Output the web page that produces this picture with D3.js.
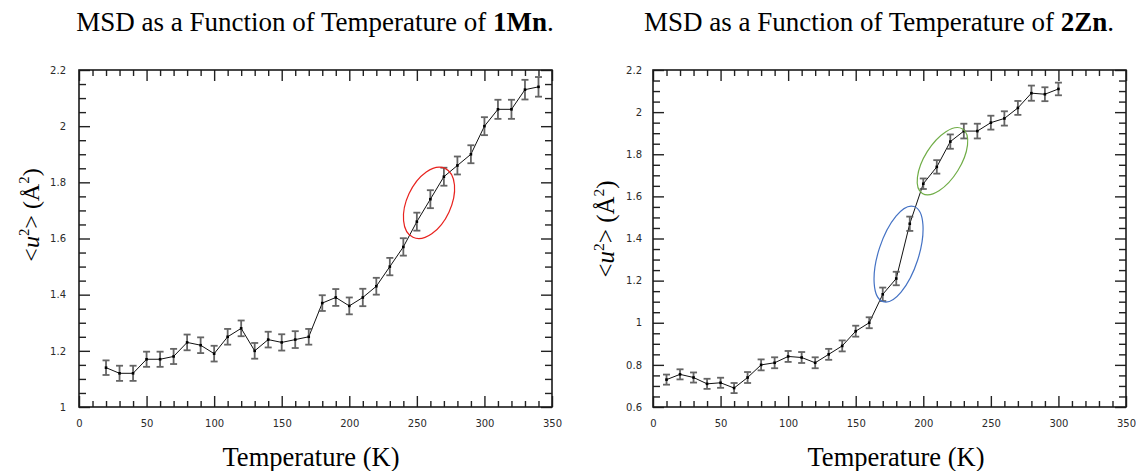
<!DOCTYPE html>
<html>
<head>
<meta charset="utf-8">
<script src="https://cdn.jsdelivr.net/npm/d3@7"></script>
<style>
  body { margin: 0; background: #fff; }
  svg { display: block; }
</style>
</head>
<body>
<svg id="chart" width="1136" height="471"></svg>
<script>
// ---- 1Mn: mean-square displacement vs temperature ----
const tempMn = [20, 30, 40, 50, 60, 70, 80, 90, 100, 110, 120, 130, 140, 150, 160, 170,
                180, 190, 200, 210, 220, 230, 240, 250, 260, 270, 280, 290, 300, 310, 320, 330, 340];
const msdMn  = [1.14, 1.12, 1.12, 1.17, 1.17, 1.18, 1.23, 1.22, 1.19, 1.25, 1.28, 1.20, 1.24, 1.23, 1.24, 1.25,
                1.37, 1.39, 1.36, 1.39, 1.43, 1.50, 1.57, 1.66, 1.74, 1.82, 1.86, 1.90, 2.00, 2.06, 2.06, 2.13, 2.14];
const errMn  = [0.026, 0.027, 0.027, 0.027, 0.027, 0.027, 0.028, 0.028, 0.028, 0.028, 0.028, 0.028, 0.028, 0.029, 0.03, 0.028,
                0.028, 0.03, 0.03, 0.031, 0.03, 0.031, 0.031, 0.032, 0.032, 0.032, 0.032, 0.032, 0.032, 0.034, 0.034, 0.035, 0.035];

// ---- 2Zn: mean-square displacement vs temperature ----
const tempZn = [10, 20, 30, 40, 50, 60, 70, 80, 90, 100, 110, 120, 130, 140, 150, 160,
                170, 180, 190, 200, 210, 220, 230, 240, 250, 260, 270, 280, 290, 300];
const msdZn  = [0.73, 0.755, 0.74, 0.71, 0.715, 0.69, 0.74, 0.80, 0.81, 0.84, 0.835, 0.81, 0.85, 0.89, 0.96, 1.00,
                1.135, 1.21, 1.47, 1.66, 1.74, 1.86, 1.91, 1.91, 1.95, 1.97, 2.02, 2.09, 2.085, 2.11];
const errZn  = [0.024, 0.024, 0.024, 0.024, 0.024, 0.024, 0.026, 0.026, 0.026, 0.026, 0.026, 0.026, 0.026, 0.026, 0.026, 0.026,
                0.032, 0.032, 0.034, 0.025, 0.032, 0.034, 0.035, 0.035, 0.033, 0.034, 0.033, 0.036, 0.033, 0.03];

// axis ticks
const xTicks   = [0, 50, 100, 150, 200, 250, 300, 350];
const yTicksMn = [1, 1.2, 1.4, 1.6, 1.8, 2, 2.2];
const yTicksZn = [0.6, 0.8, 1, 1.2, 1.4, 1.6, 1.8, 2, 2.2];

// highlighted regions: [temperature, msd] centres
const ringMn = [[259, 1.727]];
const ringZn = [[181.7, 1.326], [214.2, 1.767]];

const titleMn = ["MSD as a Function of Temperature of ", "1Mn", "."];
const titleZn = ["MSD as a Function of Temperature of ", "2Zn", "."];
const xTitle = "Temperature (K)";

const svg = d3.select("#chart");
const serif = "'Liberation Serif', 'Times New Roman', serif";
const sans = "'DejaVu Sans', Verdana, sans-serif";

function panel(o) {
  const x = d3.scaleLinear().domain([0, 350]).range([o.left, o.right]);
  const y = d3.scaleLinear().domain(o.yDomain).range([o.bottom, o.top]);
  const g = svg.append("g");

  const xMinor = d3.range(0, 351, 10).filter(v => v % 50 !== 0);
  const yMinor = d3.range(o.yDomain[0], o.yDomain[1] + 1e-6, 0.05)
    .map(v => +v.toFixed(2))
    .filter(v => !o.yTicks.some(t => Math.abs(t - v) < 1e-6));

  const style = sel => {
    sel.select(".domain").remove();
    sel.selectAll(".tick line").attr("stroke", "#222").attr("stroke-width", 1.4);
    sel.selectAll("text").attr("font-family", sans).attr("font-size", 10).attr("fill", "#2a2a2a");
  };

  // bottom
  g.append("g").attr("transform", `translate(0,${o.bottom})`)
    .call(d3.axisBottom(x).tickValues(xTicks).tickSize(-11).tickPadding(13).tickFormat(d3.format("d")))
    .call(style);
  g.append("g").attr("transform", `translate(0,${o.bottom})`)
    .call(d3.axisBottom(x).tickValues(xMinor).tickSize(-6).tickFormat(""))
    .call(style);
  // top (mirror)
  g.append("g").attr("transform", `translate(0,${o.top})`)
    .call(d3.axisTop(x).tickValues(xTicks).tickSize(-11).tickFormat(""))
    .call(style);
  g.append("g").attr("transform", `translate(0,${o.top})`)
    .call(d3.axisTop(x).tickValues(xMinor).tickSize(-6).tickFormat(""))
    .call(style);
  // left
  g.append("g").attr("transform", `translate(${o.left},0)`)
    .call(d3.axisLeft(y).tickValues(o.yTicks).tickSize(-11).tickPadding(o.yPad).tickFormat(d => String(+d.toFixed(1))))
    .call(style);
  g.append("g").attr("transform", `translate(${o.left},0)`)
    .call(d3.axisLeft(y).tickValues(yMinor).tickSize(-7).tickFormat(""))
    .call(style);
  // right (mirror)
  g.append("g").attr("transform", `translate(${o.right},0)`)
    .call(d3.axisRight(y).tickValues(o.yTicks).tickSize(-11).tickFormat(""))
    .call(style);
  g.append("g").attr("transform", `translate(${o.right},0)`)
    .call(d3.axisRight(y).tickValues(yMinor).tickSize(-7).tickFormat(""))
    .call(style);

  // frame
  g.append("rect")
    .attr("x", o.left).attr("y", o.top)
    .attr("width", o.right - o.left).attr("height", o.bottom - o.top)
    .attr("fill", "none").attr("stroke", "#1a1a1a").attr("stroke-width", 1.6);

  const pts = o.temps.map((t, i) => ({ t, v: o.values[i], e: o.errors[i] }));

  // connecting line
  g.append("path").datum(pts)
    .attr("d", d3.line().x(d => x(d.t)).y(d => y(d.v)))
    .attr("fill", "none").attr("stroke", "#111").attr("stroke-width", 1);

  // error bars
  const eb = g.append("g").attr("stroke", "#555").attr("stroke-width", 1.8).attr("opacity", 0.9);
  eb.selectAll("line.stem").data(pts).join("line").attr("class", "stem")
    .attr("x1", d => x(d.t)).attr("x2", d => x(d.t))
    .attr("y1", d => y(d.v - d.e)).attr("y2", d => y(d.v + d.e));
  eb.selectAll("line.capTop").data(pts).join("line").attr("class", "capTop")
    .attr("x1", d => x(d.t) - 3.5).attr("x2", d => x(d.t) + 3.5)
    .attr("y1", d => y(d.v + d.e)).attr("y2", d => y(d.v + d.e));
  eb.selectAll("line.capBot").data(pts).join("line").attr("class", "capBot")
    .attr("x1", d => x(d.t) - 3.5).attr("x2", d => x(d.t) + 3.5)
    .attr("y1", d => y(d.v - d.e)).attr("y2", d => y(d.v - d.e));

  // markers
  g.selectAll("rect.pt").data(pts).join("rect").attr("class", "pt")
    .attr("x", d => x(d.t) - 1.3).attr("y", d => y(d.v) - 1.3)
    .attr("width", 2.6).attr("height", 2.6).attr("fill", "#000");

  // highlight rings
  o.rings.forEach(([t, v], i) => {
    const r = o.ringShapes[i];
    g.append("ellipse")
      .attr("transform", `translate(${x(t)},${y(v)}) rotate(${r.angle})`)
      .attr("rx", r.rx).attr("ry", r.ry)
      .attr("fill", "none").attr("stroke", r.color).attr("stroke-width", 1.2);
  });

  // chart title
  const tt = svg.append("text")
    .attr("x", o.titleX).attr("y", 31)
    .attr("text-anchor", "middle")
    .attr("font-family", serif).attr("font-size", 27).attr("fill", "#000");
  tt.append("tspan").text(o.title[0]);
  tt.append("tspan").attr("font-weight", "bold").text(o.title[1]);
  tt.append("tspan").text(o.title[2]);

  // x-axis title
  svg.append("text")
    .attr("x", o.xTitleX).attr("y", 466)
    .attr("text-anchor", "middle")
    .attr("font-family", serif).attr("font-size", 26.5).attr("fill", "#000")
    .text(xTitle);

  // y-axis title: <u^2> (Å^2)
  const yt = svg.append("text")
    .attr("transform", `translate(${o.yTitleX},${o.yTitleY}) rotate(-90)`)
    .attr("text-anchor", "middle")
    .attr("font-family", serif).attr("font-size", o.yTitleSize).attr("fill", "#000");
  const sup = o.yTitleSize * 0.42;
  yt.append("tspan").text("<");
  yt.append("tspan").attr("font-style", "italic").text("u");
  yt.append("tspan").attr("dy", -sup).attr("font-size", o.yTitleSize * 0.62).text("2");
  yt.append("tspan").attr("dy", sup).text("> (Å");
  yt.append("tspan").attr("dy", -sup).attr("font-size", o.yTitleSize * 0.62).text("2");
  yt.append("tspan").attr("dy", sup).text(")");
}

panel({
  left: 79, right: 552, top: 70, bottom: 407,
  yDomain: [1, 2.2], yTicks: yTicksMn, yPad: 13,
  temps: tempMn, values: msdMn, errors: errMn,
  rings: ringMn,
  ringShapes: [{ rx: 38, ry: 22, angle: -65, color: "#e8221e" }],
  title: titleMn, titleX: 315,
  xTitleX: 311,
  yTitleX: 39, yTitleY: 215, yTitleSize: 24
});

panel({
  left: 653, right: 1126, top: 70, bottom: 407,
  yDomain: [0.6, 2.2], yTicks: yTicksZn, yPad: 11,
  temps: tempZn, values: msdZn, errors: errZn,
  rings: ringZn,
  ringShapes: [
    { rx: 50, ry: 20, angle: -72, color: "#4472c4" },
    { rx: 38, ry: 18, angle: -58, color: "#70ad47" }
  ],
  title: titleZn, titleX: 879,
  xTitleX: 896,
  yTitleX: 614, yTitleY: 229, yTitleSize: 25
});
</script>
</body>
</html>
